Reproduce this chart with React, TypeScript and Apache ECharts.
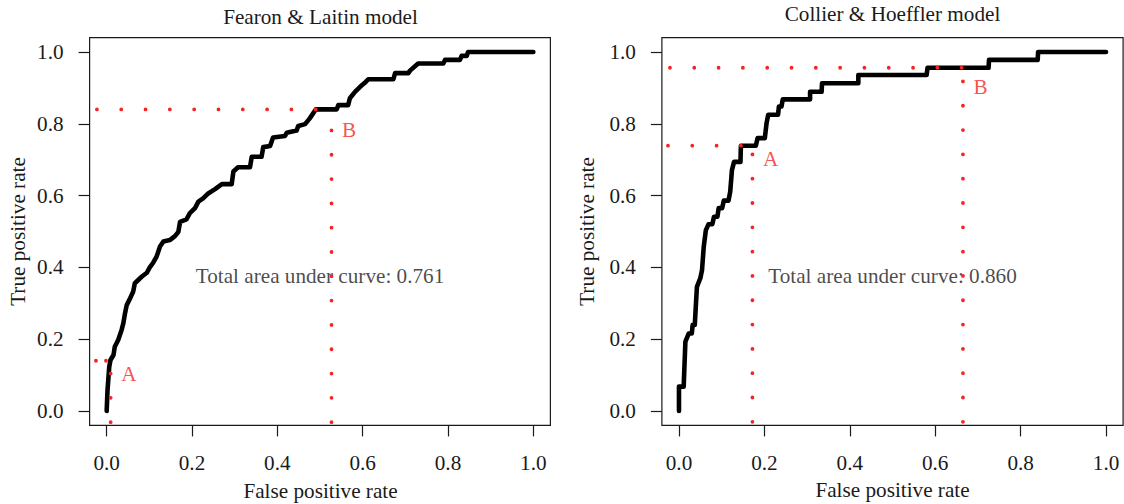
import React, { useEffect, useRef } from "react";
import * as echarts from "echarts";

// ---------- data ----------
const tickValues = [0, 0.2, 0.4, 0.6, 0.8, 1.0];
const panelTitles = ["Fearon & Laitin model", "Collier & Hoeffler model"];
const aucValues = ["0.761", "0.860"];
const xAxisTitle = "False positive rate";
const yAxisTitle = "True positive rate";

// Fearon & Laitin ROC curve
const flFpr = [0, 0.002, 0.006, 0.009, 0.016, 0.019, 0.027, 0.035, 0.039, 0.043, 0.047, 0.055, 0.062, 0.066, 0.074, 0.082, 0.094, 0.101, 0.109, 0.117, 0.125, 0.133, 0.148, 0.16, 0.168, 0.172, 0.187, 0.195, 0.207, 0.215, 0.226, 0.238, 0.254, 0.27, 0.293, 0.297, 0.308, 0.336, 0.34, 0.363, 0.367, 0.383, 0.39, 0.418, 0.422, 0.445, 0.449, 0.465, 0.476, 0.49, 0.539, 0.543, 0.566, 0.57, 0.582, 0.594, 0.605, 0.613, 0.672, 0.676, 0.707, 0.711, 0.73, 0.789, 0.793, 0.828, 0.832, 0.844, 0.847, 1.0];
const flTpr = [0, 0.058, 0.123, 0.142, 0.156, 0.179, 0.198, 0.226, 0.244, 0.272, 0.295, 0.314, 0.332, 0.356, 0.365, 0.374, 0.385, 0.4, 0.413, 0.43, 0.458, 0.472, 0.476, 0.487, 0.499, 0.527, 0.534, 0.551, 0.565, 0.583, 0.592, 0.606, 0.618, 0.632, 0.632, 0.667, 0.679, 0.679, 0.708, 0.708, 0.735, 0.738, 0.762, 0.766, 0.775, 0.781, 0.794, 0.799, 0.815, 0.84, 0.84, 0.852, 0.852, 0.871, 0.889, 0.903, 0.914, 0.924, 0.924, 0.941, 0.941, 0.948, 0.968, 0.968, 0.978, 0.978, 0.989, 0.989, 1.0, 1.0];

// Collier & Hoeffler ROC curve
const chFpr = [0, 0, 0.011, 0.015, 0.023, 0.03, 0.032, 0.037, 0.042, 0.05, 0.054, 0.058, 0.063, 0.069, 0.078, 0.082, 0.09, 0.093, 0.101, 0.105, 0.116, 0.12, 0.124, 0.129, 0.144, 0.145, 0.18, 0.184, 0.201, 0.205, 0.209, 0.232, 0.234, 0.24, 0.243, 0.307, 0.307, 0.334, 0.335, 0.42, 0.42, 0.58, 0.582, 0.725, 0.726, 0.84, 0.841, 1.0];
const chTpr = [0, 0.068, 0.068, 0.193, 0.216, 0.216, 0.24, 0.24, 0.346, 0.37, 0.393, 0.458, 0.504, 0.52, 0.52, 0.541, 0.541, 0.565, 0.565, 0.586, 0.586, 0.611, 0.671, 0.694, 0.694, 0.739, 0.739, 0.76, 0.76, 0.801, 0.825, 0.825, 0.848, 0.848, 0.868, 0.868, 0.889, 0.889, 0.913, 0.913, 0.936, 0.936, 0.956, 0.956, 0.978, 0.978, 1.0, 1.0];

// cut-off guide segments: [x1, y1, x2, y2] (dots start at the first point)
const flGuides = [
  [0.49, 0.84, -0.03, 0.84],
  [0.527, -0.031, 0.527, 0.785],
  [-0.0016, 0.14, -0.03, 0.14],
  [0.0094, -0.031, 0.0094, 0.107],
];
const chGuides = [
  [0.145, 0.739, -0.03, 0.739],
  [0.172, -0.03, 0.172, 0.716],
  [0.662, 0.956, -0.03, 0.956],
  [0.665, -0.03, 0.665, 0.92],
];
const flGuideGaps = [24.3, 24.3, 10, 24.3];
const chGuideGaps = [24.3, 24.3, 24.3, 24.3];

// cut-off labels
const flMarkNames = ["A", "B"];
const flMarkX = [0.0094, 0.527];
const flMarkY = [0.104, 0.782];
const chMarkNames = ["A", "B"];
const chMarkX = [0.172, 0.665];
const chMarkY = [0.701, 0.902];

const aucX = 0.5;
const aucY = 0.375;

// ---------- styles ----------
const FONT = "'Liberation Serif', 'Times New Roman', serif";
const INK = "#1a1a1a";
const RED = "#f52525";
const FS = 21.2;

const gridBoxes = [
  { left: 89.6, top: 37.6, width: 460.8, height: 387.8 },
  { left: 661.9, top: 37.6, width: 461.2, height: 387.8 },
];

function buildPanel(i: number, fpr: number[], tpr: number[], guides: number[][], gaps: number[], markNames: string[], markX: number[], markY: number[]) {
  const series: any[] = [];
  series.push({
    type: "line",
    xAxisIndex: i,
    yAxisIndex: i,
    data: fpr.map((x, k) => [x, tpr[k]]),
    showSymbol: false,
    symbol: "none",
    silent: true,
    z: 3,
    lineStyle: { color: "#000", width: 4.6, cap: "round", join: "round" },
  });
  guides.forEach((g, k) => {
    series.push({
      type: "line",
      xAxisIndex: i,
      yAxisIndex: i,
      data: [
        [g[0], g[1]],
        [g[2], g[3]],
      ],
      showSymbol: false,
      symbol: "none",
      silent: true,
      z: 4,
      lineStyle: { color: RED, width: 3.8, type: [0.01, gaps[k]], cap: "round" },
    });
  });
  series.push({
    type: "scatter",
    xAxisIndex: i,
    yAxisIndex: i,
    data: markX.map((x, k) => ({ value: [x, markY[k]], name: markNames[k] })),
    symbolSize: 1,
    itemStyle: { color: "transparent" },
    silent: true,
    z: 5,
    label: {
      show: true,
      position: "right",
      distance: 10,
      formatter: (p: any) => p.name,
      color: RED,
      fontSize: FS,
      fontFamily: FONT,
    },
  });
  series.push({
    type: "scatter",
    xAxisIndex: i,
    yAxisIndex: i,
    data: [{ value: [aucX, aucY], name: "Total area under curve: " + aucValues[i] }],
    symbolSize: 1,
    itemStyle: { color: "transparent" },
    silent: true,
    z: 2,
    label: {
      show: true,
      position: "inside",
      formatter: (p: any) => p.name,
      color: INK,
      fontSize: FS,
      fontFamily: FONT,
    },
  });
  return series;
}

export default function App() {
  const ref = useRef<HTMLDivElement>(null);
  useEffect(() => {
    if (!ref.current) return;
    const chart = echarts.init(ref.current, undefined, { renderer: "svg" });
    const axisText = { fontSize: FS, fontFamily: FONT, color: INK };
    const xAxes = [0, 1].map((i) => ({
      type: "value",
      gridIndex: i,
      min: -0.04,
      max: 1.04,
      axisLine: { show: false, onZero: false },
      splitLine: { show: false },
      axisTick: { show: true, customValues: tickValues, length: 11, lineStyle: { color: INK, width: 1.2 } },
      axisLabel: { show: true, customValues: tickValues, margin: 27, formatter: (v: number) => v.toFixed(1), ...axisText },
    }));
    const yAxes = [0, 1].map((i) => ({
      type: "value",
      gridIndex: i,
      min: -0.04,
      max: 1.04,
      axisLine: { show: false, onZero: false },
      splitLine: { show: false },
      axisTick: { show: true, customValues: tickValues, length: 11, lineStyle: { color: INK, width: 1.2 } },
      axisLabel: { show: true, customValues: tickValues, margin: 26, formatter: (v: number) => v.toFixed(1), ...axisText },
    }));
    const titleX = [320.5, 892.5];
    const titleY = [17, 13.7];
    const xNameY = [490.5, 490.3];
    const yNameX = [17.5, 586.5];
    const graphic: any[] = [];
    [0, 1].forEach((i) => {
      graphic.push({
        type: "text",
        x: titleX[i],
        y: titleY[i],
        style: { text: panelTitles[i], fontSize: FS, fontFamily: FONT, fill: INK, textAlign: "center", textVerticalAlign: "middle" },
      });
      graphic.push({
        type: "text",
        x: titleX[i],
        y: xNameY[i],
        style: { text: xAxisTitle, fontSize: FS, fontFamily: FONT, fill: INK, textAlign: "center", textVerticalAlign: "middle" },
      });
      graphic.push({
        type: "text",
        x: yNameX[i],
        y: 231.5,
        rotation: Math.PI / 2,
        style: { text: yAxisTitle, fontSize: FS, fontFamily: FONT, fill: INK, textAlign: "center", textVerticalAlign: "middle" },
      });
    });
    chart.setOption({
      animation: false,
      backgroundColor: "#ffffff",
      grid: gridBoxes.map((b) => ({
        ...b,
        show: true,
        borderColor: INK,
        borderWidth: 1.2,
        backgroundColor: "transparent",
        containLabel: false,
        outerBoundsMode: "none",
      })),
      xAxis: xAxes,
      yAxis: yAxes,
      graphic,
      series: [
        ...buildPanel(0, flFpr, flTpr, flGuides, flGuideGaps, flMarkNames, flMarkX, flMarkY),
        ...buildPanel(1, chFpr, chTpr, chGuides, chGuideGaps, chMarkNames, chMarkX, chMarkY),
      ],
    });
    return () => chart.dispose();
  }, []);
  return <div ref={ref} style={{ position: "fixed", left: 0, top: 0, width: 1124, height: 504 }} />;
}
